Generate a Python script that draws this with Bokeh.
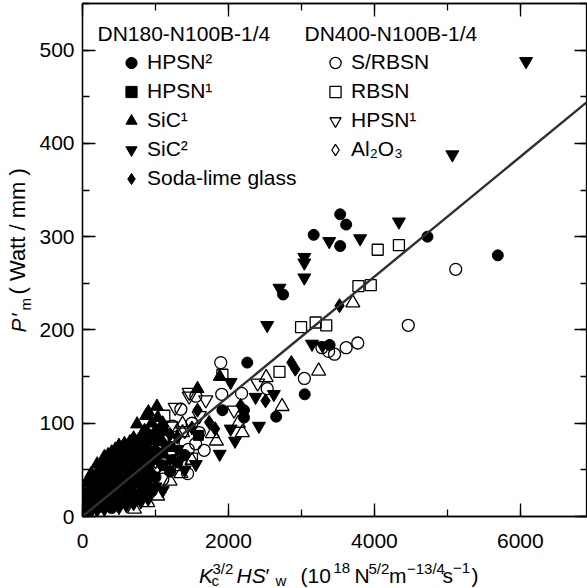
from math import pi
from bokeh.plotting import figure
from bokeh.layouts import row, column
from bokeh.models import (Range1d, SingleIntervalTicker, LinearAxis, Legend,
                          LegendItem, Label, CustomLabelingPolicy)
from bokeh.embed import file_html
from bokeh.resources import INLINE
from bokeh.core.validation import silence
from bokeh.core.validation.warnings import MISSING_RENDERERS

silence(MISSING_RENDERERS, True)

FONT = "Liberation Sans"

# ---------------- data ----------------
# DN180-N100B-1/4
HPSN2_X = [3531, 3613, 3168, 3531, 4727, 5691, 2749, 2258, 3386, 3045, 2213, 2213, 2654, 1917,
           20, 120, 200, 300, 400, 400, 500, 500, 600, 700, 700, 800, 800, 900, 900, 1000,
           1100, 1200, 1300, 1400, 350, 450, 550, 650, 750, 850, 950]
HPSN2_Y = [324, 313, 302, 290, 300, 280, 238, 165, 184, 131, 114, 106, 107, 114,
           12, 16, 17, 18, 9, 39, 20, 50, 22, 24, 54, 26, 66, 29, 49, 42,
           55, 48, 58, 66, 14, 55, 17, 39, 21, 64, 27]

HPSN1F_X = [60, 120, 120, 200, 300, 300, 400, 400, 500, 500, 600, 600, 600, 700, 700, 800, 800,
            800, 900, 900, 1000, 1000, 1100, 1100, 1200, 1589, 250, 350, 450, 650, 750, 850, 950]
HPSN1F_Y = [15, 26, 36, 37, 28, 48, 29, 59, 40, 60, 32, 52, 62, 44, 64, 36, 56,
            76, 59, 69, 62, 82, 68, 92, 75, 87, 32, 54, 35, 59, 41, 44, 70]

SIC1_X = [20, 60, 120, 200, 200, 300, 300, 400, 500, 500, 575, 600, 700, 700, 748, 800, 848,
          870, 900, 903, 1000, 1020, 1030, 1100, 1576, 1880, 150, 250, 350, 450, 550, 650,
          750, 850, 950]
SIC1_Y = [24, 36, 46, 47, 56, 58, 64, 69, 70, 76, 78, 72, 74, 84, 99, 86, 87,
          108, 89, 112, 92, 118, 106, 100, 137, 150, 40, 52, 66, 72, 74, 80,
          80, 92, 100]

SIC2_X = [6078, 5068, 4336, 3381, 3804, 3040, 3040, 3040, 2699, 2531, 3145, 3290, 2622, 2372,
          2418, 2030, 2090, 2030, 1880, 1553,
          20, 60, 120, 200, 300, 400, 500, 600, 700, 800, 900, 1000, 1100, 1200, 1300, 1400,
          250, 450, 550, 650, 850]
SIC2_Y = [488, 388, 316, 295, 298, 278, 272, 256, 245, 205, 185, 183, 131, 128,
          97, 144, 81, 94, 67, 56,
          3, 5, 6, 7, 8, 19, 10, 12, 14, 16, 19, 32, 28, 62, 72, 50,
          12, 15, 37, 19, 24]

GLASS_X = [3522, 2862, 2917, 2508, 1817, 1735, 1576, 2167,
           60, 200, 300, 400, 500, 600, 700, 800, 900, 900, 1000, 1100, 1200, 1300, 1500,
           150, 350, 550, 750, 950]
GLASS_Y = [226, 165, 158, 124, 94, 101, 114, 119,
           25, 27, 38, 49, 30, 42, 34, 46, 39, 79, 72, 80, 88, 85, 95,
           22, 34, 57, 61, 47]

# DN400-N100B-1/4
SRBSN_X = [5114, 4464, 3281, 3372, 3454, 3613, 3772, 3040, 2531, 2180, 1894, 1908, 1553, 1348,
           1667, 1440, 1000, 1100, 1250, 1350, 1450, 1550, 1600, 1500, 1235]
SRBSN_Y = [265, 205, 181, 177, 174, 181, 186, 148, 137, 132, 165, 131, 129, 115,
           71, 46, 52, 40, 60, 65, 72, 78, 90, 100, 97]

RBSN_X = [4045, 4336, 3781, 3950, 2995, 3195, 3340, 1917, 2699, 1121, 950, 1050, 1250, 1350,
          1500]
RBSN_Y = [286, 291, 247, 248, 203, 208, 205, 152, 155, 108, 62, 70, 80, 55,
          62]

HPSN1O_X = [1270, 1212, 1462, 1462, 1690, 2076, 2400, 1100, 1000, 1400, 1600, 1150]
HPSN1O_Y = [117, 97, 133, 129, 125, 114, 143, 75, 60, 92, 108, 85]

AL2O3_X = [44, 150, 1000]
AL2O3_Y = [35, 40, 50]

# open up-triangles (not named in the legend)
OTHER_X = [3704, 3236, 2517, 2735, 2135, 1835, 2190, 1371, 1371, 1030, 894, 712, 1200, 1350,
           1500, 1780]
OTHER_Y = [229, 156, 149, 118, 100, 81, 90, 99, 90, 22, 15, 8, 38, 46,
           60, 89]

# fitted line
LINE_X = [0, 7000]
LINE_Y = [0, 450]

X_TICK_STEP = 2000
Y_TICK_STEP = 100

# ---------------- layout geometry (canvas px) ----------------
W, H = 587, 588
YLAB_W = 36          # left strip holding the y-axis title
MAIN_H = 560         # main figure height
FL, FB, FT = 80, 516, 3   # frame left / bottom / top on the canvas

p = figure(width=W - YLAB_W, height=MAIN_H, output_backend="svg", toolbar_location=None,
           x_range=Range1d(0, 6920), y_range=Range1d(0, 550),
           min_border_left=FL - YLAB_W, min_border_right=0, min_border_top=FT,
           min_border_bottom=MAIN_H - FB)
p.grid.visible = False
p.outline_line_color = "black"
p.outline_line_width = 1.3
p.background_fill_color = "white"
p.border_fill_color = "white"

bottom = p.below[0]
left = p.left[0]
bottom.ticker = SingleIntervalTicker(interval=X_TICK_STEP, num_minor_ticks=2)
left.ticker = SingleIntervalTicker(interval=Y_TICK_STEP, num_minor_ticks=2)
hide = "const ids = [...indices]; for (const i of ids) indices.unset(i); return indices"
top = LinearAxis(ticker=SingleIntervalTicker(interval=X_TICK_STEP, num_minor_ticks=2),
                 major_label_policy=CustomLabelingPolicy(code=hide))
right = LinearAxis(ticker=SingleIntervalTicker(interval=Y_TICK_STEP, num_minor_ticks=2),
                   major_label_policy=CustomLabelingPolicy(code=hide))
p.add_layout(top, "above")
p.add_layout(right, "right")

for ax in [bottom, left, top, right]:
    ax.axis_line_color = "black"
    ax.axis_line_width = 1.3
    ax.major_tick_in = 13
    ax.major_tick_out = 0
    ax.minor_tick_in = 7
    ax.minor_tick_out = 0
    ax.major_tick_line_color = "black"
    ax.minor_tick_line_color = "black"
    ax.major_tick_line_width = 1.3
    ax.minor_tick_line_width = 1.3
    ax.major_label_text_font = FONT
    ax.major_label_text_font_size = "21px"
    ax.major_label_text_color = "black"
for ax in [top, right]:
    ax.major_label_text_font_size = "0px"
    ax.major_label_standoff = 0
bottom.major_label_standoff = 17
left.major_label_standoff = 8

# ---------------- marks ----------------
OW = 1.3
r_hpsn2 = p.scatter(HPSN2_X, HPSN2_Y, marker="circle", size=11, fill_color="black", line_color="black")
r_hpsn1f = p.scatter(HPSN1F_X, HPSN1F_Y, marker="square", size=10, fill_color="black", line_color="black")
r_sic1 = p.scatter(SIC1_X, SIC1_Y, marker="triangle", size=13, fill_color="black", line_color="black")
r_sic2 = p.scatter(SIC2_X, SIC2_Y, marker="inverted_triangle", size=13, fill_color="black", line_color="black")
r_glass = p.scatter(GLASS_X, GLASS_Y, marker="diamond", size=14, fill_color="black", line_color="black")

r_srbsn = p.scatter(SRBSN_X, SRBSN_Y, marker="circle", size=12, fill_color=None, line_color="black", line_width=OW)
r_rbsn = p.scatter(RBSN_X, RBSN_Y, marker="square", size=11, fill_color=None, line_color="black", line_width=OW)
r_hpsn1o = p.scatter(HPSN1O_X, HPSN1O_Y, marker="inverted_triangle", size=14, fill_color=None, line_color="black", line_width=OW)
r_al2o3 = p.scatter(AL2O3_X, AL2O3_Y, marker="diamond", size=14, fill_color=None, line_color="black", line_width=OW)
r_other = p.scatter(OTHER_X, OTHER_Y, marker="triangle", size=14, fill_color=None, line_color="black", line_width=OW)

p.line(LINE_X, LINE_Y, line_color="#303030", line_width=2.4)

# ---------------- legends ----------------
def make_legend(items, loc):
    lg = Legend(items=items, location=loc, padding=0, spacing=0, margin=0,
                glyph_width=28, glyph_height=29, label_height=29, label_standoff=2,
                label_text_font=FONT, label_text_font_size="21px", label_text_color="black",
                border_line_color=None, background_fill_alpha=0)
    p.add_layout(lg)
    return lg

make_legend([LegendItem(label="HPSN²", renderers=[r_hpsn2]),
             LegendItem(label="HPSN¹", renderers=[r_hpsn1f]),
             LegendItem(label="SiC¹", renderers=[r_sic1]),
             LegendItem(label="SiC²", renderers=[r_sic2]),
             LegendItem(label="Soda-lime glass", renderers=[r_glass])],
            (115 - FL, FB - 192.5))
make_legend([LegendItem(label="S/RBSN", renderers=[r_srbsn]),
             LegendItem(label="RBSN", renderers=[r_rbsn]),
             LegendItem(label="HPSN¹", renderers=[r_hpsn1o]),
             LegendItem(label="Al₂O₃", renderers=[r_al2o3])],
            (319 - FL, FB - 163.5))


def lab(fig, ox, ob, text, cx, cy, size=21, italic=False, angle=0.0, align="left"):
    """Place text whose vertical middle is at canvas point (cx, cy);
    (ox, ob) = canvas left / bottom of fig's frame."""
    fig.add_layout(Label(x=cx - ox, y=ob - cy, x_units="screen", y_units="screen", text=text,
                         text_font=FONT, text_font_size=f"{size}px",
                         text_font_style="italic" if italic else "normal",
                         angle=angle, text_align=align, text_baseline="middle",
                         text_color="black"))


lab(p, FL, FB, "DN180-N100B-1/4", 95, 33)
lab(p, FL, FB, "DN400-N100B-1/4", 302, 33)


def blank(w, h):
    f = figure(width=w, height=h, output_backend="svg", toolbar_location=None, title=None,
               x_axis_location=None, y_axis_location=None,
               x_range=Range1d(0, 1), y_range=Range1d(0, 1),
               min_border=0, min_border_left=0, min_border_right=0,
               min_border_top=0, min_border_bottom=0)
    f.grid.visible = False
    f.outline_line_color = None
    f.background_fill_color = "white"
    f.border_fill_color = "white"
    return f


MID = 0.35  # baseline -> middle offset (fraction of font size)

# x axis title strip (below the main figure); its frame is aligned with the main frame
xf = blank(W - YLAB_W, H - MAIN_H)
XO, XB = FL, H
BL = 582  # main baseline
for t, cx, dy, sz, it in [("K", 196.5, 0, 21, True), ("c", 209, 3, 15, False),
                          ("3/2", 210, -9, 15, False), ("HS", 234, 0, 21, True),
                          ("′", 262, 0, 21, True), ("w", 273, 3, 15, False),
                          ("(10", 298, 0, 21, False), ("18", 331, -9, 15, False),
                          ("N", 352, 0, 21, False), ("5/2", 366, -9, 15, False),
                          ("m", 386.5, 0, 21, False), ("−13/4", 404.5, -9, 15, False),
                          ("s", 440, 0, 21, False), ("−1", 450.5, -9, 15, False),
                          (")", 469, 0, 21, False)]:
    lab(xf, XO, XB, t, cx, BL + dy - MID * sz, size=sz, italic=it)

# y axis title strip (left); rotated text: glyph tops point to the left
yf = blank(YLAB_W, H)
YB = 25  # baseline x of the rotated title
lab(yf, 0, H, "P", YB - MID * 21, 332, italic=True, angle=pi / 2)
lab(yf, 0, H, "′", YB - MID * 21, 317, italic=True, angle=pi / 2)
lab(yf, 0, H, "m", YB + 5 - MID * 15, 310, size=15, angle=pi / 2)
lab(yf, 0, H, "( Watt / mm )", YB - MID * 22, 294, size=22, angle=pi / 2)

layout = row(yf, column(p, xf, spacing=0), spacing=0)
open("out.html", "w").write(file_html(layout, INLINE))
